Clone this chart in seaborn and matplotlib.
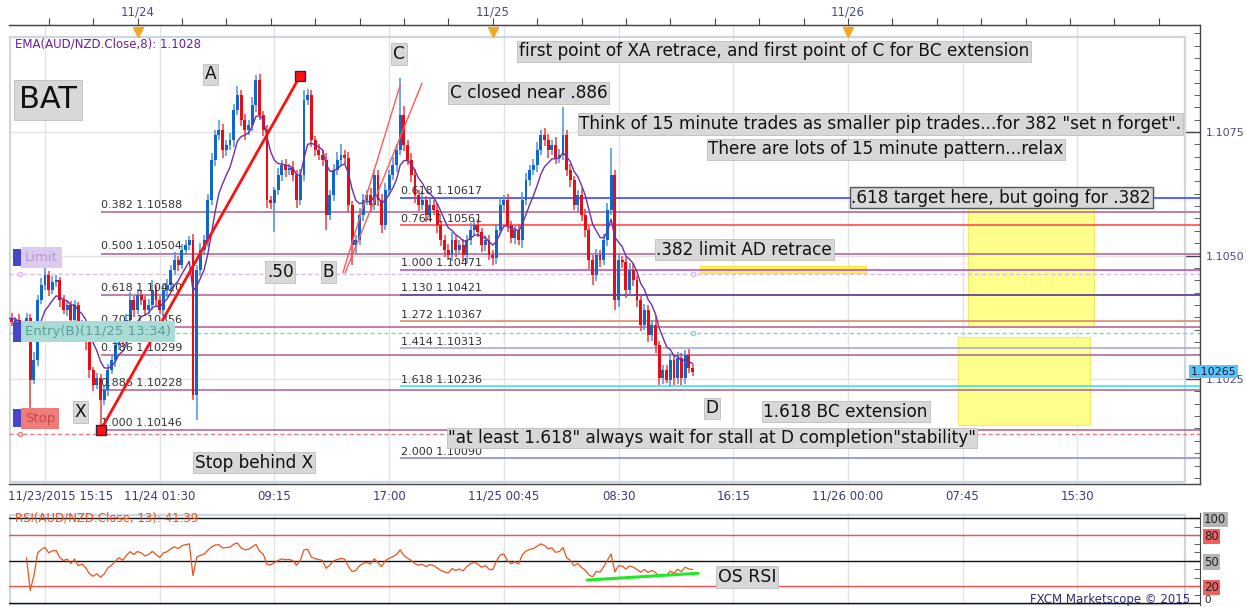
import numpy as np
import pandas as pd
import matplotlib
matplotlib.use("Agg")
import matplotlib.pyplot as plt
from matplotlib.patches import Rectangle
from matplotlib.ticker import MultipleLocator
import seaborn as sns

W, H = 1246, 607
PIP = 0.0001

# 15 minute AUD/NZD closes, bar 0 = 11/23 15:15
closes = [
    1.10374, 1.10365, 1.10370, 1.10349, 1.10362, 1.10374, 1.10249, 1.10289, 1.10410, 1.10441,
    1.10461, 1.10431, 1.10447, 1.10451, 1.10410, 1.10390, 1.10400, 1.10370, 1.10400, 1.10349,
    1.10360, 1.10329, 1.10269, 1.10238, 1.10253, 1.10208, 1.10228, 1.10269, 1.10289, 1.10319,
    1.10349, 1.10329, 1.10370, 1.10410, 1.10390, 1.10420, 1.10410, 1.10390, 1.10400, 1.10431,
    1.10410, 1.10390, 1.10431, 1.10441, 1.10471, 1.10491, 1.10481, 1.10511, 1.10521, 1.10532,
    1.10218, 1.10471, 1.10511, 1.10532, 1.10612, 1.10693, 1.10744, 1.10754, 1.10714, 1.10724,
    1.10734, 1.10795, 1.10825, 1.10774, 1.10754, 1.10764, 1.10805, 1.10855, 1.10785, 1.10754,
    1.10612, 1.10606, 1.10633, 1.10663, 1.10683, 1.10673, 1.10677, 1.10663, 1.10612, 1.10663,
    1.10815, 1.10825, 1.10734, 1.10714, 1.10704, 1.10693, 1.10582, 1.10622, 1.10673, 1.10693,
    1.10704, 1.10697, 1.10602, 1.10521, 1.10532, 1.10582, 1.10612, 1.10622, 1.10602, 1.10663,
    1.10612, 1.10562, 1.10633, 1.10663, 1.10683, 1.10714, 1.10785, 1.10724, 1.10693, 1.10663,
    1.10622, 1.10602, 1.10612, 1.10582, 1.10602, 1.10592, 1.10562, 1.10532, 1.10511, 1.10501,
    1.10532, 1.10511, 1.10521, 1.10501, 1.10532, 1.10552, 1.10562, 1.10548, 1.10521, 1.10532,
    1.10501, 1.10495, 1.10552, 1.10602, 1.10612, 1.10562, 1.10536, 1.10552, 1.10532, 1.10612,
    1.10653, 1.10673, 1.10683, 1.10714, 1.10744, 1.10734, 1.10714, 1.10724, 1.10697, 1.10704,
    1.10744, 1.10673, 1.10653, 1.10602, 1.10622, 1.10582, 1.10552, 1.10491, 1.10461, 1.10501,
    1.10491, 1.10532, 1.10592, 1.10663, 1.10410, 1.10491, 1.10487, 1.10431, 1.10471, 1.10451,
    1.10410, 1.10360, 1.10390, 1.10339, 1.10360, 1.10319, 1.10253, 1.10269, 1.10249, 1.10289,
    1.10253, 1.10293, 1.10253, 1.10299, 1.10273, 1.10265,
]
first_open = 1.10360

# wick lengths beyond the body, in pips
wick_up = [
    0.8, 1.0, 0.6, 1.2, 0.5, 0.9, 0.7, 1.5, 1.0, 1.4,
    1.6, 0.8, 1.2, 0.9, 0.6, 1.0, 0.8, 0.7, 1.1, 0.5,
    0.9, 0.6, 0.8, 0.5, 1.0, 0.7, 0.9, 1.2, 1.0, 0.8,
    1.5, 0.7, 1.1, 1.6, 0.8, 1.2, 1.0, 0.9, 1.3, 2.0,
    1.0, 0.8, 1.4, 1.2, 1.0, 1.6, 0.9, 1.2, 1.0, 0.8,
    1.2, 1.0, 1.5, 1.0, 1.2, 1.4, 1.0, 2.0, 1.2, 1.0,
    1.4, 1.2, 1.8, 1.0, 1.2, 1.0, 1.5, 1.0, 1.2, 0.8,
    1.0, 0.8, 0.6, 1.4, 1.0, 1.2, 0.9, 1.5, 1.0, 1.2,
    2.0, 1.2, 1.0, 0.8, 1.2, 1.0, 1.4, 1.0, 1.2, 1.6,
    2.2, 1.0, 1.2, 0.8, 1.0, 1.4, 1.2, 1.0, 1.5, 1.2,
    1.0, 1.2, 1.4, 1.0, 1.6, 1.2, 7.4, 1.8, 1.0, 1.4,
    1.2, 1.0, 1.8, 0.8, 1.2, 1.0, 1.4, 0.8, 1.0, 1.2,
    1.6, 0.8, 1.0, 1.2, 0.9, 1.4, 1.0, 1.2, 0.8, 1.0,
    0.9, 1.0, 1.2, 1.4, 1.0, 1.2, 0.8, 1.0, 1.2, 1.6,
    1.4, 1.0, 1.2, 1.6, 1.0, 1.4, 1.2, 1.0, 1.6, 1.2,
    5.7, 1.0, 1.2, 0.8, 1.0, 1.4, 1.2, 0.8, 1.0, 1.2,
    1.0, 1.2, 1.4, 5.5, 1.0, 1.2, 0.8, 1.0, 1.4, 1.2,
    0.8, 1.0, 1.2, 0.9, 1.0, 1.8, 0.8, 1.0, 0.9, 1.4,
    1.0, 1.2, 0.9, 1.0, 1.2, 0.8,
]
wick_dn = [
    1.0, 0.8, 1.2, 0.9, 1.0, 0.7, 8.2, 1.0, 1.2, 0.8,
    1.0, 1.2, 0.8, 1.0, 1.4, 0.9, 1.2, 1.0, 0.8, 1.2,
    1.0, 2.0, 1.6, 1.2, 0.8, 5.7, 1.0, 1.2, 0.9, 1.4,
    1.0, 1.2, 0.8, 1.0, 1.4, 0.8, 1.0, 1.2, 0.8, 1.0,
    1.2, 0.9, 1.0, 1.4, 0.8, 1.0, 1.2, 0.8, 1.0, 0.9,
    1.0, 5.1, 1.2, 1.0, 1.4, 1.0, 1.2, 1.0, 1.6, 1.2,
    1.0, 1.4, 1.0, 1.2, 2.0, 1.0, 1.2, 1.4, 1.0, 1.2,
    1.6, 1.2, 5.8, 1.0, 1.2, 1.4, 1.0, 1.2, 1.6, 1.0,
    1.2, 1.0, 1.4, 1.2, 1.0, 1.2, 3.0, 1.0, 1.2, 1.0,
    1.0, 1.2, 1.4, 4.0, 1.6, 1.0, 1.2, 1.0, 1.4, 1.0,
    1.2, 1.6, 1.0, 1.2, 1.0, 1.4, 1.0, 1.2, 1.0, 1.4,
    1.6, 1.2, 1.0, 1.4, 1.2, 1.0, 1.6, 1.2, 1.4, 1.0,
    1.2, 1.4, 1.0, 1.2, 1.6, 1.0, 1.2, 1.0, 1.4, 1.2,
    1.0, 1.4, 1.2, 1.0, 1.2, 1.4, 1.0, 1.2, 1.0, 1.6,
    1.0, 1.2, 1.0, 1.4, 1.0, 1.2, 1.6, 1.0, 1.2, 1.0,
    1.0, 1.2, 1.4, 1.0, 1.6, 1.2, 1.4, 1.8, 2.0, 1.2,
    1.4, 1.0, 1.2, 1.0, 2.0, 1.4, 1.2, 1.6, 1.0, 1.2,
    1.4, 1.2, 1.0, 1.4, 1.2, 1.6, 1.5, 1.2, 0.6, 1.4,
    1.5, 1.2, 1.5, 1.4, 1.0, 0.8,
]

# XA retracement and BC extension levels
xa_ratio = ["0.382", "0.500", "0.618", "0.707", "0.786", "0.886", "1.000"]
xa_price = [1.10588, 1.10504, 1.10420, 1.10356, 1.10299, 1.10228, 1.10146]
bc_ratio = ["0.618", "0.764", "1.000", "1.130", "1.272", "1.414", "1.618", "2.000"]
bc_price = [1.10617, 1.10561, 1.10471, 1.10421, 1.10367, 1.10313, 1.10236, 1.10090]
bc_color = ["#3a46ff", "#ff4b4b", "#b356c9", "#5b4d9c", "#d98c6c", "#a9a9e2", "#33e6f5", "#8b8be6"]

limit_price = 1.10462
entry_price = 1.10343
stop_price = 1.10139

# pattern points (bar, price)
xa_bars = [25, 78.9]
xa_prices = [1.10146, 1.10863]
bc1_bars = [90.5, 106.0]
bc1_prices = [1.10465, 1.10845]
bc2_bars = [91.1, 111.9]
bc2_prices = [1.10465, 1.10849]
rsi_trend_bars = [156.5, 186.5]
rsi_trend_vals = [27.0, 35.0]

time_labels = ["11/24 01:30", "09:15", "17:00", "11/25 00:45", "08:30",
               "16:15", "11/26 00:00", "07:45", "15:30"]
time_bars = [41, 72, 103, 134, 165, 196, 227, 258, 289]
grid_bars = [10] + time_bars
day_labels = ["11/24", "11/25", "11/26"]
day_bars = [35, 131, 227]
price_ticks = [1.1025, 1.1050, 1.1075]
rsi_levels = [0, 20, 50, 80, 100]

sns.set_style("white")
plt.rcParams["font.family"] = ["DejaVu Sans"]

df = pd.DataFrame({"close": closes})
df["bar"] = np.arange(len(df))
df["open"] = [first_open] + closes[:-1]
top = np.maximum(df.open, df.close)
bot = np.minimum(df.open, df.close)
df["high"] = top + np.array(wick_up) * PIP
df["low"] = bot - np.array(wick_dn) * PIP
up = df.close >= df.open
df["ema"] = df.close.ewm(span=8, adjust=False).mean()
delta = df.close.diff().fillna(0)
avg_gain = delta.clip(lower=0).ewm(alpha=1 / 13, adjust=True).mean()
avg_loss = (-delta.clip(upper=0)).ewm(alpha=1 / 13, adjust=True).mean()
df["rsi"] = 100 - 100 / (1 + avg_gain / avg_loss.replace(0, np.nan))
df.loc[df.bar < 5, "rsi"] = np.nan  # warm-up


def axes_px(fig, l, t, r, b):
    return fig.add_axes([l / W, (H - b) / H, (r - l) / W, (b - t) / H])


fig = plt.figure(figsize=(W / 100, H / 100), dpi=100)
ax = axes_px(fig, 9, 25, 1200, 484)
ax2 = axes_px(fig, 9, 513, 1200, 605)

XMIN, XMAX = (9 - 8) / 3.7, (1200 - 8) / 3.7
ax.set_xlim(XMIN, XMAX)
ax.set_ylim(1.100376, 1.109666)

# grid
for b in grid_bars:
    ax.axvline(b, color="#e3e3e3", lw=1, zorder=0)
    ax2.axvline(b, color="#e3e3e3", lw=1, zorder=0)
for p in price_ticks:
    ax.axhline(p, color="#e3e3e3", lw=1, zorder=0)

# inner light frame
ax.add_patch(Rectangle((0.001, 0.004), 0.9865, 0.97, transform=ax.transAxes,
                       fill=False, ec="#cdd6e2", lw=1.6, zorder=1))

# yellow zones
ax.add_patch(Rectangle((187, 1.10465), 45, 0.00014, fc="#fff04a", ec="#f2e040", lw=0.6, zorder=1))
ax.add_patch(Rectangle((259.5, 1.10355), 34, 0.00241, fc="#ffff8c", ec="#f3e96a", lw=0.8, zorder=1))
ax.add_patch(Rectangle((256.8, 1.10157), 35.6, 0.00178, fc="#ffff8c", ec="#f3e96a", lw=0.8, zorder=1))

# fib levels
for r, p in zip(xa_ratio, xa_price):
    ax.hlines(p, xa_bars[0], XMAX, color="#b9769f", lw=1.3, zorder=2)
    ax.annotate(f"{r} {p:.5f}", (xa_bars[0] + 0.2, p), xytext=(0, 1.5),
                textcoords="offset points", fontsize=8, color="#333333",
                va="bottom", ha="left", zorder=6)
for r, p, c in zip(bc_ratio, bc_price, bc_color):
    ax.hlines(p, 106, XMAX, color=c, lw=1.2, zorder=2)
    ax.annotate(f"{r} {p:.5f}", (106.3, p), xytext=(0, 1.0),
                textcoords="offset points", fontsize=8, color="#333333",
                va="bottom", ha="left", zorder=6)

# order lines
for p, c in [(limit_price, "#dcb8ee"), (entry_price, "#86d2ca"), (stop_price, "#f07a7a")]:
    ax.hlines(p, XMIN, XMAX, color=c, lw=1, linestyles=(0, (3, 2)), zorder=2)
    ax.plot([3.2, 185], [p, p], ls="none", marker="o", ms=3, mfc="white", mec=c, zorder=3)

# candles
body_c = np.where(up, "#0f66cc", "#ea0c14")
wick_c = np.where(up, "#4c8fe0", "#ee3c3c")
ax.vlines(df.bar, df.low, df.high, colors=wick_c, lw=1.1, zorder=3)
ax.bar(df.bar, np.maximum(top - bot, 0.00002), bottom=bot, width=0.8,
       color=body_c, lw=0, zorder=4)
sns.lineplot(data=df, x="bar", y="ema", ax=ax, color="#6b2fa8", lw=1, zorder=5)

# pattern lines
ax.plot(xa_bars, xa_prices, color="#ff1010", lw=2, zorder=6)
ax.plot(xa_bars, xa_prices, ls="none", marker="s", ms=6.5, mfc="#ff1010", mec="#402040", zorder=7)
ax.plot(bc1_bars, bc1_prices, color="#ff5a5a", lw=1, zorder=6)
ax.plot(bc2_bars, bc2_prices, color="#ff5a5a", lw=1, zorder=6)


def note(a, x, y, s, size=12.2, ec="#bdbdbd", lw=0.6, pad=0.1):
    a.text(x, y, s, ha="center", va="center", fontsize=size, color="#111111", zorder=9,
           bbox=dict(boxstyle=f"square,pad={pad}", fc="#d8d8d8", ec=ec, lw=lw))


note(ax, 10.8, 1.10815, "BAT", size=22, pad=0.18)
note(ax, 54.7, 1.10867, "A")
note(ax, 105.7, 1.10908, "C")
note(ax, 19.6, 1.10183, "X")
note(ax, 73.6, 1.10467, ".50")
note(ax, 86.5, 1.10467, "B")
note(ax, 190.3, 1.10191, "D")
note(ax, 66.5, 1.10081, "Stop behind X")
note(ax, 207.0, 1.10913, "first point of XA retrace, and first point of C for BC extension")
note(ax, 140.7, 1.10829, "C closed near .886")
note(ax, 235.8, 1.10766, 'Think of 15 minute trades as smaller pip trades...for 382 "set n forget".')
note(ax, 237.3, 1.10715, "There are lots of 15 minute pattern...relax")
note(ax, 268.4, 1.10617, ".618 target here, but going for .382", ec="#555555", lw=1)
note(ax, 199.0, 1.10512, ".382 limit AD retrace")
note(ax, 226.4, 1.10184, "1.618 BC extension")
note(ax, 190.3, 1.10131, '"at least 1.618" always wait for stall at D completion"stability"', pad=0.04)

# order tags on the left
for p0, h, s, fc, tc in [(1.10479, 0.00034, "Limit", "#dccbee", "#b596d6"),
                         (1.10326, 0.00039, "Entry(B)(11/25 13:34)", "#a9dcd6", "#5a9e9a"),
                         (1.10153, 0.00036, "Stop", "#f07b7b", "#c84848")]:
    ax.add_patch(Rectangle((1.35, p0), 2.45, h, fc="#4646c8", ec="none", zorder=8))
    ax.text(4.6, p0 + h / 2, s, ha="left", va="center", fontsize=9.5, color=tc, zorder=8,
            bbox=dict(boxstyle="square,pad=0.3", fc=fc, ec="none"))

ax.text(0.005, 0.9586, "EMA(AUD/NZD.Close,8): 1.1028", transform=ax.transAxes,
        fontsize=8.5, color="#6a1b9a", va="center", ha="left")

# axes styling, main panel
ax.spines["left"].set_visible(False)
for s in ["top", "bottom", "right"]:
    ax.spines[s].set_color("#454545")
    ax.spines[s].set_linewidth(1)
ax.set_xlabel("")
ax.set_ylabel("")
ax.yaxis.tick_right()
ax.set_yticks(price_ticks)
ax.set_yticklabels([f"{p:.4f}" for p in price_ticks])
ax.yaxis.set_minor_locator(MultipleLocator(0.00025))
ax.tick_params(axis="y", which="major", direction="in", length=11, width=1,
               color="#454545", labelsize=8, labelcolor="#4a4a80", pad=4)
ax.tick_params(axis="y", which="minor", direction="in", length=4, color="#454545")
ax.set_xticks(time_bars)
ax.set_xticklabels(time_labels)
ax.xaxis.set_minor_locator(MultipleLocator(2))
ax.tick_params(axis="x", which="major", direction="in", length=6, color="#454545",
               labelsize=8.5, labelcolor="#3c3c70", pad=4)
ax.tick_params(axis="x", which="minor", direction="in", length=3, color="#454545")
ax.text(0, -0.012, "11/23/2015 15:15", transform=ax.get_xaxis_transform(), ha="left",
        va="top", fontsize=8.5, color="#3c3c70")

sec = ax.secondary_xaxis("top")
sec.set_xticks(np.arange(11, 323, 12))
sec.set_xticklabels([])
sec.tick_params(axis="x", direction="out", length=5, color="#454545")
sec.spines["top"].set_color("#454545")
for b, s in zip(day_bars, day_labels):
    ax.text(b, 1.028, s, transform=ax.get_xaxis_transform(), ha="center", va="center",
            fontsize=8.5, color="#4a4a80", clip_on=False)
ax.plot(day_bars, [0.985] * 3, transform=ax.get_xaxis_transform(), ls="none", marker="v",
        ms=7, color="#f5a623", clip_on=False, zorder=9)

ax.text(0.9925, df.close.iloc[-1], f"{df.close.iloc[-1]:.5f}", transform=ax.get_yaxis_transform(),
        ha="left", va="center", fontsize=8, color="#1a1a4a", clip_on=False, zorder=10,
        bbox=dict(boxstyle="square,pad=0.15", fc="#5ac4f5", ec="none"))

# RSI panel
ax2.set_xlim(XMIN, XMAX)
ax2.set_ylim(-2.35, 105.9)
for lv, c in zip(rsi_levels, ["#111111", "#f05050", "#111111", "#f05050", "#111111"]):
    ax2.axhline(lv, color=c, lw=1, zorder=1)
sns.lineplot(data=df, x="bar", y="rsi", ax=ax2, color="#e8541e", lw=0.9, zorder=3)
ax2.plot(rsi_trend_bars, rsi_trend_vals, color="#22e82a", lw=2.2, zorder=4)
note(ax2, 199.7, 30.6, "OS RSI", size=12.5)
ax2.text(0.005, 100, "RSI(AUD/NZD.Close, 13): 41.39", transform=ax2.get_yaxis_transform(),
         fontsize=8.5, color="#e8541e", va="center", ha="left", zorder=2)
ax2.add_patch(Rectangle((0.001, 0.0), 0.9865, 0.975, transform=ax2.transAxes,
                        fill=False, ec="#cdd6e2", lw=1.6, zorder=0))
ax2.set_xlabel("")
ax2.set_ylabel("")
ax2.set_xticks([])
for s in ["left", "top", "bottom"]:
    ax2.spines[s].set_visible(False)
ax2.spines["right"].set_color("#454545")
ax2.yaxis.tick_right()
ax2.set_yticks(rsi_levels)
ax2.set_yticklabels([str(v) for v in rsi_levels])
ax2.yaxis.set_minor_locator(MultipleLocator(10))
ax2.tick_params(axis="y", which="major", direction="in", length=8, color="#454545",
                labelsize=8.5, labelcolor="#222222", pad=3)
ax2.tick_params(axis="y", which="minor", direction="in", length=4, color="#454545")
for lbl, c in zip(ax2.get_yticklabels(), ["none", "#f06060", "#b4b4b4", "#f06060", "#b4b4b4"]):
    lbl.set_bbox(dict(boxstyle="square,pad=0.1", fc=c, ec="none"))
zero_lbl = ax2.get_yticklabels()[0]
zero_lbl.set_fontsize(7.5)
zero_lbl.set_verticalalignment("baseline")

fig.text(1030 / W, 1 / H, "FXCM Marketscope \u00a9 2015", fontsize=8.5, color="#2e2e6e",
         ha="left", va="bottom")

fig.savefig("out.png", dpi=100)
